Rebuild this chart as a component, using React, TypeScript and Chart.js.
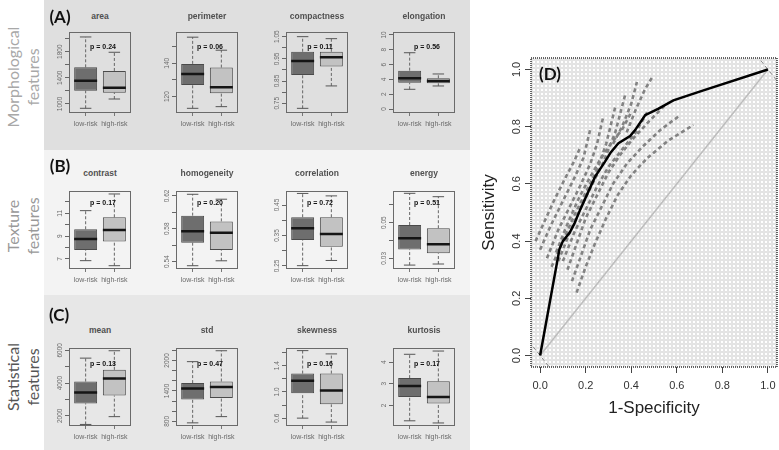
import React, { useEffect, useRef } from 'react';
import { Chart, registerables } from 'chart.js';
Chart.register(...registerables);

// ---------- data ----------
const groups = ['low-risk', 'high-risk'];

// five-number summaries: [min, q1, median, q3, max]
const areaLow = [934, 1203, 1356, 1561, 2025];
const areaHigh = [1076, 1173, 1249, 1505, 1791];
const perimeterLow = [113.0, 127.0, 133.6, 139.6, 155.6];
const perimeterHigh = [114.0, 122.0, 125.6, 137.4, 147.8];
const compactnessLow = [0.727, 0.877, 0.94, 0.982, 1.05];
const compactnessHigh = [0.828, 0.915, 0.957, 0.982, 1.041];
const elongationLow = [2.66, 3.55, 4.15, 5.18, 7.6];
const elongationHigh = [3.11, 3.47, 3.78, 4.15, 4.73];
const contrastLow = [6.85, 7.79, 8.75, 9.6, 11.23];
const contrastHigh = [6.41, 8.52, 9.54, 10.65, 12.69];
const homogeneityLow = [0.535, 0.563, 0.577, 0.596, 0.622];
const homogeneityHigh = [0.541, 0.554, 0.575, 0.589, 0.616];
const correlationLow = [0.251, 0.335, 0.374, 0.41, 0.488];
const correlationHigh = [0.268, 0.313, 0.355, 0.41, 0.48];
const energyLow = [0.0262, 0.035, 0.0412, 0.0487, 0.0665];
const energyHigh = [0.0268, 0.0328, 0.0379, 0.0469, 0.0646];
const meanLow = [1476, 2762, 3429, 4095, 5524];
const meanHigh = [1952, 3238, 4286, 4810, 5976];
const stdLow = [770, 1231, 1446, 1554, 1977];
const stdHigh = [893, 1262, 1477, 1585, 2192];
const skewnessLow = [0.6, 0.98, 1.17, 1.28, 1.63];
const skewnessHigh = [0.54, 0.81, 1.02, 1.28, 1.58];
const kurtosisLow = [1.29, 2.39, 2.9, 3.26, 4.36];
const kurtosisHigh = [1.19, 2.09, 2.39, 3.11, 4.51];

// axis ranges
const areaRange = [862, 2101];
const perimeterRange = [110.2, 158.7];
const compactnessRange = [0.706, 1.071];
const elongationRange = [-0.54, 10.4];
const contrastRange = [6.12, 12.95];
const homogeneityRange = [0.531, 0.626];
const correlationRange = [0.24, 0.496];
const energyRange = [0.024, 0.0678];
const meanRange = [1381, 6143];
const stdRange = [708, 2246];
const skewnessRange = [0.48, 1.67];
const kurtosisRange = [1.05, 4.65];

// tick marks and labelled ticks
const areaTicks = [1000, 1200, 1400, 1600, 1800, 2000];
const areaLabels = ['1000', '1400', '1800'];
const perimeterTicks = [120, 130, 140, 150];
const perimeterLabels = ['120', '140'];
const compactnessTicks = [0.75, 0.8, 0.85, 0.9, 0.95, 1.0, 1.05];
const compactnessLabels = ['0.75', '0.85', '0.95', '1.05'];
const elongationTicks = [0, 2, 4, 6, 8, 10];
const elongationLabels = ['0', '2', '4', '6', '8', '10'];
const contrastTicks = [7, 8, 9, 10, 11, 12];
const contrastLabels = ['7', '9', '11'];
const homogeneityTicks = [0.54, 0.56, 0.58, 0.6, 0.62];
const homogeneityLabels = ['0.54', '0.58', '0.62'];
const correlationTicks = [0.25, 0.3, 0.35, 0.4, 0.45];
const correlationLabels = ['0.25', '0.35', '0.45'];
const energyTicks = [0.03, 0.04, 0.05, 0.06];
const energyLabels = ['0.03', '0.05'];
const meanTicks = [2000, 3000, 4000, 5000, 6000];
const meanLabels = ['2000', '4000', '6000'];
const stdTicks = [800, 1000, 1200, 1400, 1600, 1800, 2000, 2200];
const stdLabels = ['800', '1400', '2000'];
const skewnessTicks = [0.6, 0.8, 1.0, 1.2, 1.4, 1.6];
const skewnessLabels = ['0.6', '1.0', '1.4'];
const kurtosisTicks = [2, 3, 4];
const kurtosisLabels = ['2', '3', '4'];

const panels = [
  { title: 'area', p: 'p = 0.24', low: areaLow, high: areaHigh, range: areaRange, ticks: areaTicks, labels: areaLabels },
  { title: 'perimeter', p: 'p = 0.06', low: perimeterLow, high: perimeterHigh, range: perimeterRange, ticks: perimeterTicks, labels: perimeterLabels },
  { title: 'compactness', p: 'p = 0.11', low: compactnessLow, high: compactnessHigh, range: compactnessRange, ticks: compactnessTicks, labels: compactnessLabels },
  { title: 'elongation', p: 'p = 0.56', low: elongationLow, high: elongationHigh, range: elongationRange, ticks: elongationTicks, labels: elongationLabels },
  { title: 'contrast', p: 'p = 0.17', low: contrastLow, high: contrastHigh, range: contrastRange, ticks: contrastTicks, labels: contrastLabels },
  { title: 'homogeneity', p: 'p = 0.20', low: homogeneityLow, high: homogeneityHigh, range: homogeneityRange, ticks: homogeneityTicks, labels: homogeneityLabels },
  { title: 'correlation', p: 'p = 0.72', low: correlationLow, high: correlationHigh, range: correlationRange, ticks: correlationTicks, labels: correlationLabels },
  { title: 'energy', p: 'p = 0.51', low: energyLow, high: energyHigh, range: energyRange, ticks: energyTicks, labels: energyLabels },
  { title: 'mean', p: 'p = 0.13', low: meanLow, high: meanHigh, range: meanRange, ticks: meanTicks, labels: meanLabels },
  { title: 'std', p: 'p = 0.47', low: stdLow, high: stdHigh, range: stdRange, ticks: stdTicks, labels: stdLabels },
  { title: 'skewness', p: 'p = 0.16', low: skewnessLow, high: skewnessHigh, range: skewnessRange, ticks: skewnessTicks, labels: skewnessLabels },
  { title: 'kurtosis', p: 'p = 0.17', low: kurtosisLow, high: kurtosisHigh, range: kurtosisRange, ticks: kurtosisTicks, labels: kurtosisLabels },
];

// ROC curve (1-specificity, sensitivity)
const rocFpr = [0, 0.085, 0.1, 0.13, 0.15, 0.176, 0.21, 0.242, 0.256, 0.285, 0.31, 0.344, 0.395, 0.417, 0.461, 0.52, 0.585, 0.717, 1.0];
const rocTpr = [0, 0.372, 0.4, 0.43, 0.46, 0.51, 0.57, 0.626, 0.643, 0.678, 0.71, 0.742, 0.767, 0.788, 0.84, 0.863, 0.892, 0.927, 1.0];
const rocTickLabels = ['0.0', '0.2', '0.4', '0.6', '0.8', '1.0'];
// dashed resampled curves around the ROC curve
const bandU1 = [[-0.02, 0.4], [0.02, 0.47], [0.06, 0.54], [0.11, 0.62], [0.15, 0.68], [0.176, 0.727]];
const bandU2 = [[0.0, 0.37], [0.05, 0.46], [0.1, 0.54], [0.15, 0.62], [0.19, 0.69], [0.22, 0.79]];
const bandU3 = [[0.03, 0.34], [0.08, 0.44], [0.13, 0.52], [0.18, 0.6], [0.22, 0.67], [0.25, 0.74], [0.277, 0.834]];
const bandU4 = [[0.05, 0.31], [0.1, 0.4], [0.15, 0.49], [0.2, 0.57], [0.25, 0.65], [0.29, 0.74], [0.33, 0.869]];
const bandU5 = [[0.08, 0.33], [0.13, 0.43], [0.18, 0.52], [0.23, 0.6], [0.28, 0.68], [0.33, 0.78], [0.373, 0.91]];
const bandU6 = [[0.32, 0.74], [0.36, 0.8], [0.4, 0.88], [0.425, 0.956]];
const bandU7 = [[0.38, 0.78], [0.42, 0.86], [0.46, 0.93], [0.497, 0.979]];
const bandM1 = [[0.07, 0.36], [0.12, 0.46], [0.17, 0.55], [0.21, 0.61], [0.26, 0.68], [0.31, 0.74], [0.36, 0.79], [0.4, 0.85]];
const bandM2 = [[0.1, 0.33], [0.15, 0.43], [0.2, 0.51], [0.25, 0.59], [0.3, 0.66], [0.36, 0.72], [0.42, 0.78], [0.47, 0.85]];
const bandD1 = [[0.12, 0.3], [0.16, 0.39], [0.2, 0.48], [0.25, 0.56], [0.3, 0.64], [0.35, 0.7], [0.41, 0.76], [0.48, 0.82], [0.556, 0.881]];
const bandD2 = [[0.14, 0.26], [0.18, 0.35], [0.22, 0.44], [0.27, 0.52], [0.32, 0.6], [0.38, 0.67], [0.45, 0.73], [0.53, 0.79], [0.615, 0.84]];
const bandD3 = [[0.16, 0.22], [0.2, 0.31], [0.24, 0.39], [0.29, 0.48], [0.34, 0.56], [0.4, 0.63], [0.47, 0.69], [0.56, 0.75], [0.673, 0.806]];
const cornerTop = [[0.95, 1.05], [1.05, 0.95]];
const cornerBottom = [[-0.05, 0.05], [0.05, -0.05]];

// ---------- layout ----------
const colLefts = [69, 176, 286, 393];
const frameW = 62;
const rowTops = [32, 191, 348];
const rowHeights = [81, 78, 78];
const titleYs = [16, 173, 330];
const pOffsets = [14, 11, 15];
const TICK_FONT = "6.5px 'Liberation Sans', Arial, sans-serif";
const GROUP_FONT = "7px 'Liberation Sans', Arial, sans-serif";

function segs(list: number[][][]) {
  const out: any[] = [];
  list.forEach((s) => {
    s.forEach(([x, y]) => out.push({ x, y }));
    out.push({ x: s[0][0], y: null });
  });
  return out;
}

function BoxPlot({ cfg, left, top, width, height }: any) {
  const ref = useRef<HTMLCanvasElement>(null);
  const cw = width + 36;
  const ch = height + 26;
  useEffect(() => {
    const stats = [cfg.low, cfg.high];
    const whiskers: number[][][] = [];
    const caps: number[][][] = [];
    const medians: number[][][] = [];
    stats.forEach((s: number[], i: number) => {
      const g = i + 1;
      whiskers.push([[g, s[3]], [g, s[4]]], [[g, s[0]], [g, s[1]]]);
      caps.push([[g - 0.2, s[4]], [g + 0.2, s[4]]], [[g - 0.2, s[0]], [g + 0.2, s[0]]]);
      medians.push([[g - 0.4, s[2]], [g + 0.4, s[2]]]);
    });
    const decor = {
      id: 'boxDecor',
      afterDraw(chart: any) {
        const { ctx, chartArea: a, scales } = chart;
        ctx.save();
        ctx.strokeStyle = '#6a6a6a';
        ctx.lineWidth = 1;
        ctx.strokeRect(a.left + 0.5, a.top + 0.5, a.width - 1, a.height - 1);
        ctx.font = TICK_FONT;
        ctx.fillStyle = '#6a6a6a';
        ctx.textAlign = 'center';
        ctx.textBaseline = 'middle';
        cfg.labels.forEach((l: string) => {
          const y = scales.y.getPixelForValue(parseFloat(l));
          ctx.save();
          ctx.translate(a.left - 9, y);
          ctx.rotate(-Math.PI / 2);
          ctx.fillText(l, 0, 0);
          ctx.restore();
        });
        ctx.font = GROUP_FONT;
        groups.forEach((gname, i) => {
          ctx.fillText(gname, scales.x.getPixelForValue(i + 1), a.bottom + 11);
        });
        ctx.restore();
      },
    };
    const chart = new Chart(ref.current as HTMLCanvasElement, {
      type: 'bar',
      data: {
        datasets: [
          { type: 'line', data: segs(medians), borderColor: '#151515', borderWidth: 2.5, pointRadius: 0, order: 0 } as any,
          {
            type: 'bar',
            data: [
              { x: 1, y: [cfg.low[1], cfg.low[3]] },
              { x: 2, y: [cfg.high[1], cfg.high[3]] },
            ],
            backgroundColor: ['#6e6e6e', '#c2c2c2'],
            borderColor: '#4a4a4a',
            borderWidth: 1,
            borderSkipped: false,
            barPercentage: 0.8,
            categoryPercentage: 1,
            order: 1,
          } as any,
          { type: 'line', data: segs(caps), borderColor: '#555', borderWidth: 1, pointRadius: 0, order: 2 } as any,
          { type: 'line', data: segs(whiskers), borderColor: '#666', borderWidth: 1, borderDash: [3, 2], pointRadius: 0, order: 3 } as any,
        ],
      },
      options: {
        responsive: false,
        animation: false,
        events: [],
        layout: { padding: { left: 0, top: 6, right: 6, bottom: 0 } },
        plugins: { legend: { display: false }, tooltip: { enabled: false } },
        scales: {
          x: {
            type: 'linear',
            min: 0.42,
            max: 2.58,
            offset: false,
            afterFit: (s: any) => { s.height = 20; },
            afterBuildTicks: (s: any) => { s.ticks = [{ value: 1 }, { value: 2 }]; },
            ticks: { display: false },
            grid: { drawOnChartArea: false, drawTicks: true, tickLength: 3, color: '#777', offset: false },
            border: { display: false },
          },
          y: {
            type: 'linear',
            min: cfg.range[0],
            max: cfg.range[1],
            afterFit: (s: any) => { s.width = 30; },
            afterBuildTicks: (s: any) => { s.ticks = cfg.ticks.map((v: number) => ({ value: v })); },
            ticks: { display: false },
            grid: { drawOnChartArea: false, drawTicks: true, tickLength: 4, color: '#666' },
            border: { display: false },
          },
        },
      } as any,
      plugins: [decor],
    });
    return () => chart.destroy();
  }, []);
  return (
    <canvas
      ref={ref}
      width={cw}
      height={ch}
      style={{ position: 'absolute', left: left - 30, top: top - 6, width: cw, height: ch }}
    />
  );
}

function RocChart() {
  const ref = useRef<HTMLCanvasElement>(null);
  useEffect(() => {
    const pts = (arr: number[][]) => arr.map(([x, y]) => ({ x, y }));
    const bands = [bandU1, bandU2, bandU3, bandU4, bandU5, bandU6, bandU7, bandM1, bandM2, bandD1, bandD2, bandD3];
    const decor = {
      id: 'rocDecor',
      beforeDatasetsDraw(chart: any) {
        const { ctx, chartArea: a } = chart;
        const tile = document.createElement('canvas');
        tile.width = 4;
        tile.height = 4;
        const t = tile.getContext('2d') as CanvasRenderingContext2D;
        t.fillStyle = '#ffffff';
        t.fillRect(0, 0, 4, 4);
        t.strokeStyle = '#c8c8c8';
        t.lineWidth = 0.8;
        t.beginPath();
        t.arc(2, 2, 1.3, 0, Math.PI * 2);
        t.stroke();
        ctx.save();
        ctx.fillStyle = ctx.createPattern(tile, 'repeat');
        ctx.fillRect(a.left, a.top, a.width, a.height);
        ctx.restore();
      },
      afterDraw(chart: any) {
        const { ctx, chartArea: a, scales } = chart;
        ctx.save();
        ctx.strokeStyle = '#333';
        ctx.lineWidth = 1.5;
        ctx.setLineDash([1, 1]);
        ctx.strokeRect(a.left, a.top, a.width, a.height);
        ctx.setLineDash([]);
        ctx.font = "11px 'Liberation Sans', Arial, sans-serif";
        ctx.fillStyle = '#333';
        ctx.textAlign = 'center';
        ctx.textBaseline = 'middle';
        rocTickLabels.forEach((l) => {
          const v = parseFloat(l);
          ctx.fillText(l, scales.x.getPixelForValue(v), a.bottom + 19);
          ctx.save();
          ctx.translate(a.left - 14, scales.y.getPixelForValue(v));
          ctx.rotate(-Math.PI / 2);
          ctx.fillText(l, 0, 0);
          ctx.restore();
        });
        ctx.restore();
      },
    };
    const tickVals = rocTickLabels.map((l) => ({ value: parseFloat(l) }));
    const chart = new Chart(ref.current as HTMLCanvasElement, {
      type: 'scatter',
      data: {
        datasets: [
          {
            data: rocFpr.map((x, i) => ({ x, y: rocTpr[i] })),
            showLine: true, borderColor: '#000', borderWidth: 2.5, pointRadius: 0, order: 0,
          } as any,
          {
            data: [{ x: 0, y: 0 }, { x: 1, y: 1 }],
            showLine: true, borderColor: '#bdbdbd', borderWidth: 1.5, pointRadius: 0, order: 2,
          } as any,
          ...[cornerTop, cornerBottom].map((c) => ({
            data: pts(c), showLine: true, borderColor: '#888', borderWidth: 1, borderDash: [4, 3], pointRadius: 0, order: 3,
          })),
          ...bands.map((b) => ({
            data: pts(b), showLine: true, borderColor: '#838383', borderWidth: 2.6, borderDash: [4, 3], pointRadius: 0, order: 1,
          })),
        ],
      },
      options: {
        responsive: false,
        animation: false,
        events: [],
        layout: { padding: { left: 0, top: 28, right: 2, bottom: 0 } },
        plugins: { legend: { display: false }, tooltip: { enabled: false } },
        scales: {
          x: {
            type: 'linear', min: -0.04, max: 1.04,
            afterFit: (s: any) => { s.height = 63; },
            afterBuildTicks: (s: any) => { s.ticks = tickVals.map((t) => ({ ...t })); },
            ticks: { display: false },
            grid: { drawOnChartArea: false, drawTicks: true, tickLength: 6, color: '#444' },
            border: { display: false },
            title: {
              display: true, text: '1-Specificity', color: '#222',
              font: { family: "'Liberation Sans', Arial, sans-serif", size: 17 },
              padding: { top: 0, bottom: 11 },
            },
          },
          y: {
            type: 'linear', min: -0.04, max: 1.04,
            afterFit: (s: any) => { s.width = 61; },
            afterBuildTicks: (s: any) => { s.ticks = tickVals.map((t) => ({ ...t })); },
            ticks: { display: false },
            grid: { drawOnChartArea: false, drawTicks: true, tickLength: 6, color: '#444' },
            border: { display: false },
            title: {
              display: true, text: 'Sensitivity', color: '#222',
              font: { family: "'Liberation Sans', Arial, sans-serif", size: 17 },
              padding: { top: 9, bottom: 0 },
            },
          },
        },
      } as any,
      plugins: [decor],
    });
    return () => chart.destroy();
  }, []);
  return (
    <canvas ref={ref} width={309} height={400} style={{ position: 'absolute', left: 470, top: 30, width: 309, height: 400 }} />
  );
}

const T = ({ x, y, style, children }: any) => (
  <div
    style={{
      position: 'absolute', left: x, top: y, transform: 'translate(-50%,-50%)',
      whiteSpace: 'nowrap', lineHeight: 1, ...style,
    }}
  >
    {children}
  </div>
);

const SideLabel = ({ y, color, l1, l2 }: any) => (
  <div
    style={{
      position: 'absolute', left: 23, top: y, transform: 'translate(-50%,-50%) rotate(-90deg)',
      textAlign: 'center', whiteSpace: 'nowrap', font: "16px Lato, 'Open Sans', sans-serif",
      lineHeight: '20px', color,
    }}
  >
    {l1}
    <br />
    {l2}
  </div>
);

export default function App() {
  const letterStyle = { font: "bold 17px Lato, 'Open Sans', sans-serif", color: '#111' };
  return (
    <div style={{ position: 'absolute', left: 0, top: 0, width: 779, height: 450, overflow: 'hidden', background: '#fff' }}>
      <div style={{ position: 'absolute', left: 44, top: 0, width: 426, height: 150, background: '#dfdfdf' }} />
      <div style={{ position: 'absolute', left: 44, top: 150, width: 426, height: 145, background: '#f3f3f3' }} />
      <div style={{ position: 'absolute', left: 44, top: 295, width: 426, height: 155, background: '#e7e7e7' }} />
      <SideLabel y={77} color="#a8a8a8" l1="Morphological" l2="features" />
      <SideLabel y={226} color="#999999" l1="Texture" l2="features" />
      <SideLabel y={377} color="#555555" l1="Statistical" l2="features" />
      {panels.map((cfg, i) => {
        const row = Math.floor(i / 4);
        const col = i % 4;
        return (
          <BoxPlot key={cfg.title} cfg={cfg} left={colLefts[col]} top={rowTops[row]} width={frameW} height={rowHeights[row]} />
        );
      })}
      {panels.map((cfg, i) => {
        const row = Math.floor(i / 4);
        const col = i % 4;
        const cx = colLefts[col] + frameW / 2;
        return (
          <React.Fragment key={cfg.title + '-t'}>
            <T x={cx} y={titleYs[row]} style={{ font: "bold 8.5px 'Liberation Sans', Arial, sans-serif", color: '#505050' }}>{cfg.title}</T>
            <T x={cx + 3} y={rowTops[row] + pOffsets[row]} style={{ font: "bold 7px 'Liberation Sans', Arial, sans-serif", color: '#111' }}>{cfg.p}</T>
          </React.Fragment>
        );
      })}
      <T x={60} y={16} style={letterStyle}>(A)</T>
      <T x={60} y={165} style={letterStyle}>(B)</T>
      <T x={59} y={314} style={letterStyle}>(C)</T>
      <RocChart />
      <T x={550} y={73} style={{ font: "bold 17px Lato, 'Open Sans', sans-serif", color: '#111' }}>(D)</T>
    </div>
  );
}
